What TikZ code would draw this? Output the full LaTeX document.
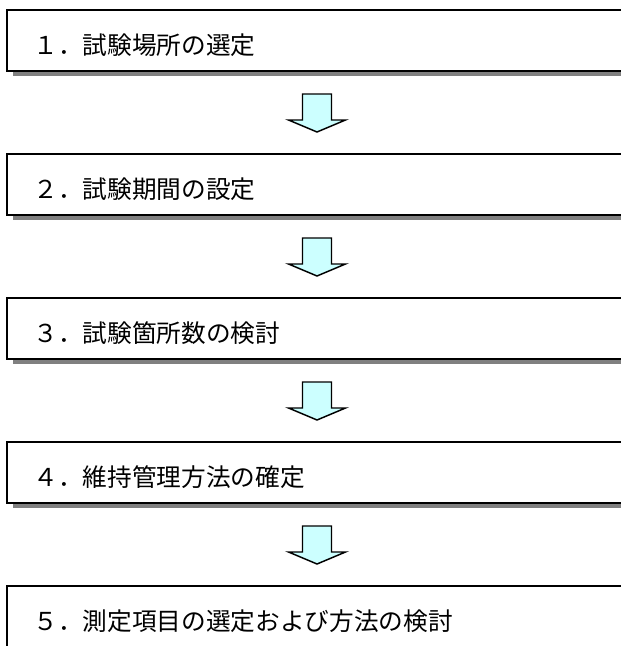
\documentclass[tikz,border=0pt]{standalone}
\usepackage{fontspec}
\setmainfont{Noto Sans CJK JP}
\usetikzlibrary{calc}

\tikzset{every picture/.style={line width=0.75pt}}
\tikzset{
  stepbox/.style={anchor=north west,
    minimum width=459.75pt, minimum height=45pt, inner sep=0pt},
  stepedge/.style={draw=black, line width=1.5pt, line join=miter},
  stepshadow/.style={fill={rgb,255:red,128;green,128;blue,128}},
  steptext/.style={anchor=west, inner sep=0pt, font=\fontsize{18.5}{22}\selectfont},
  flowarrow/.style={draw, line width=1.1pt, line join=miter,
    fill={rgb,255:red,204;green,255;blue,255}}
}

\begin{document}
\begin{tikzpicture}[x=0.75pt,y=0.75pt,yscale=-1,xscale=1]
\useasboundingbox (0,0) rectangle (621,646);

% Boxes
\node [stepbox] (box1) at (7,10) {};
\node [stepbox] (box2) at (7,154) {};
\node [stepbox] (box3) at (7,298) {};
\node [stepbox] (box4) at (7,442) {};
\node [stepbox] (box5) at (7,586) {};

% Text Node
\node [steptext] (t1) at (33,45) {１．試験場所の選定};
% Text Node
\node [steptext] (t2) at (33,189) {２．試験期間の設定};
% Text Node
\node [steptext] (t3) at (33,333) {３．試験箇所数の検討};
% Text Node
\node [steptext] (t4) at (33,477) {４．維持管理方法の確定};
% Text Node
\node [steptext] (t5) at (33,621) {５．測定項目の選定および方法の検討};

% Block arrows
\coordinate (a12) at (317,94);
\coordinate (a23) at (317,238);
\coordinate (a34) at (317,382);
\coordinate (a45) at (317,526);

\draw [flowarrow] (a12) ++(-14.5,0) -- ++(29,0) -- ++(0,26) -- ++(14,0) -- ++(-28.5,12) -- ++(-28.5,-12) -- ++(14,0) -- cycle;
\draw [flowarrow] (a23) ++(-14.5,0) -- ++(29,0) -- ++(0,26) -- ++(14,0) -- ++(-28.5,12) -- ++(-28.5,-12) -- ++(14,0) -- cycle;
\draw [flowarrow] (a34) ++(-14.5,0) -- ++(29,0) -- ++(0,26) -- ++(14,0) -- ++(-28.5,12) -- ++(-28.5,-12) -- ++(14,0) -- cycle;
\draw [flowarrow] (a45) ++(-14.5,0) -- ++(29,0) -- ++(0,26) -- ++(14,0) -- ++(-28.5,12) -- ++(-28.5,-12) -- ++(14,0) -- cycle;

% Shadows (bottom strip only, the rest runs off the page)
\fill [stepshadow] ($(box1.south west)+(6,0)$) rectangle ($(box1.south east)+(0,4.5)$);
\fill [stepshadow] ($(box2.south west)+(6,0)$) rectangle ($(box2.south east)+(0,4.5)$);
\fill [stepshadow] ($(box3.south west)+(6,0)$) rectangle ($(box3.south east)+(0,4.5)$);
\fill [stepshadow] ($(box4.south west)+(6,0)$) rectangle ($(box4.south east)+(0,4.5)$);

% Box edges, open on the right
\draw [stepedge] (box1.north east) -- (box1.north west) -- (box1.south west) -- (box1.south east);
\draw [stepedge] (box2.north east) -- (box2.north west) -- (box2.south west) -- (box2.south east);
\draw [stepedge] (box3.north east) -- (box3.north west) -- (box3.south west) -- (box3.south east);
\draw [stepedge] (box4.north east) -- (box4.north west) -- (box4.south west) -- (box4.south east);
\draw [stepedge] (box5.north east) -- (box5.north west) -- (box5.south west);

\end{tikzpicture}
\end{document}
